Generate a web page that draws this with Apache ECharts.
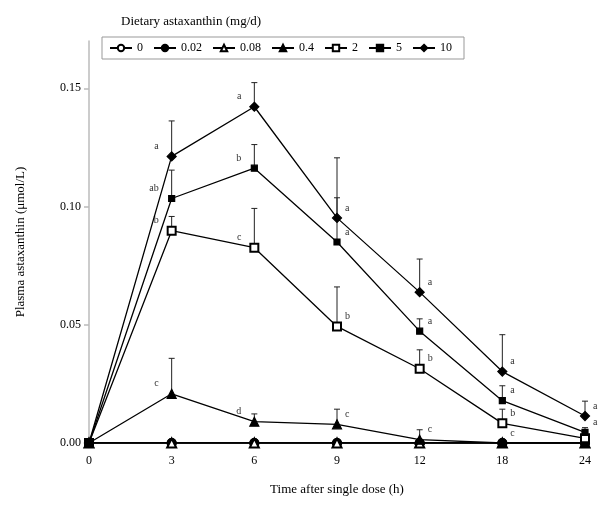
<!DOCTYPE html>
<html><head><meta charset="utf-8">
<script src="https://cdn.jsdelivr.net/npm/echarts@6/dist/echarts.min.js"></script>
<style>html,body{margin:0;padding:0;background:#fff}#c{width:600px;height:512px}</style>
</head><body><div id="c"></div>
<script>
// ---- data ----
const times = ['0', '3', '6', '9', '12', '18', '24'];
const seriesNames = ['0', '0.02', '0.08', '0.4', '2', '5', '10'];
const yTicks = [0, 0.05, 0.10, 0.15];

const d0    = [0, 0, 0, 0, 0, 0, 0];
const d002  = [0, 0, 0, 0, 0, 0, 0];
const d008  = [0, 0, 0, 0, 0, 0, 0];
const d04   = [0, 0.0208, 0.0090, 0.0079, 0.0014, 0, 0];
const d2    = [0, 0.0898, 0.0826, 0.0493, 0.0314, 0.0083, 0.0020];
const d5    = [0, 0.1034, 0.1162, 0.0850, 0.0473, 0.0179, 0.0045];
const d10   = [0, 0.1212, 0.1422, 0.0952, 0.0638, 0.0302, 0.0114];

const e04   = [0, 0.0150, 0.0033, 0.0064, 0.0042, 0, 0];
const e2    = [0, 0.0060, 0.0166, 0.0167, 0.0080, 0.0060, 0.0010];
const e5    = [0, 0.0120, 0.0100, 0.0187, 0.0052, 0.0063, 0.0020];
const e10   = [0, 0.0150, 0.0102, 0.0254, 0.0140, 0.0156, 0.0063];

const l04   = [null, 'c', 'd', 'c', 'c', 'c', null];
const l2    = [null, 'b', 'c', 'b', 'b', 'b', null];
const l5    = [null, 'ab', 'b', 'a', 'a', 'a', 'a'];
const l10   = [null, 'a', 'a', 'a', 'a', 'a', 'a'];

// ---- chart ----
const FONT = 'Liberation Serif';
const chart = echarts.init(document.getElementById('c'));

function lineSeries(name, data, symbol, size) {
  return {
    name: name, type: 'line', data: data, symbol: symbol, symbolSize: size,
    lineStyle: { color: '#000', width: 1.3 },
    itemStyle: { color: '#000', borderColor: '#000', borderWidth: 1.2 },
    emphasis: { disabled: true }, animation: false, z: 3
  };
}

function errSeries(vals, errs, labels) {
  return {
    type: 'custom', silent: true, animation: false, z: 2,
    data: vals.map((v, i) => [i, v, errs[i]]),
    renderItem: function (params, api) {
      const i = api.value(0), v = api.value(1), e = api.value(2);
      const p = api.coord([i, v]);
      const t = api.coord([i, v + e]);
      const kids = [];
      if (e > 0) {
        kids.push({ type: 'line', shape: { x1: p[0], y1: p[1], x2: t[0], y2: t[1] },
          style: { stroke: '#222', lineWidth: 1 } });
        kids.push({ type: 'line', shape: { x1: t[0] - 3, y1: t[1], x2: t[0] + 3, y2: t[1] },
          style: { stroke: '#222', lineWidth: 1 } });
      }
      const lab = labels[params.dataIndex];
      if (lab) {
        const left = i === 1 || i === 2;
        kids.push({ type: 'text', style: {
          text: lab, x: left ? p[0] - 13 : p[0] + 8, y: p[1] - 10,
          align: left ? 'right' : 'left', verticalAlign: 'middle',
          font: '10px ' + FONT, fill: '#333' } });
      }
      return { type: 'group', children: kids };
    }
  };
}

chart.setOption({
  animation: false,
  textStyle: { fontFamily: FONT },
  graphic: [{
    type: 'text', left: 121, top: 15,
    style: { text: 'Dietary astaxanthin (mg/d)', font: '13px ' + FONT, fill: '#000' }
  }],
  legend: {
    left: 102, top: 37,
    data: seriesNames,
    itemWidth: 22, itemHeight: 8, itemGap: 10,
    padding: [5, 12, 5, 7],
    borderColor: '#999', borderWidth: 1,
    textStyle: { fontFamily: FONT, fontSize: 12, color: '#000' },
    selectedMode: false
  },
  grid: { left: 89, right: 15, top: 41, bottom: 69 },
  xAxis: {
    type: 'category', data: times, boundaryGap: false,
    name: 'Time after single dose (h)', nameLocation: 'middle', nameGap: 40,
    nameTextStyle: { fontFamily: FONT, fontSize: 13, color: '#000' },
    axisLine: { lineStyle: { color: '#bbb', width: 1.5 } },
    axisTick: { show: false },
    axisLabel: { fontFamily: FONT, fontSize: 12, color: '#000', margin: 12 },
    splitLine: { show: false }
  },
  yAxis: {
    type: 'value', min: 0, max: 0.17, interval: 0.05,
    name: 'Plasma astaxanthin (μmol/L)', nameLocation: 'middle', nameGap: 62, nameRotate: 90,
    nameTextStyle: { fontFamily: FONT, fontSize: 13, color: '#000' },
    axisLine: { show: true, lineStyle: { color: '#bbb', width: 1.5 } },
    axisTick: { show: true, length: 5, customValues: yTicks, lineStyle: { color: '#bbb', width: 1.5 } },
    axisLabel: { fontFamily: FONT, fontSize: 12, color: '#000', margin: 8, customValues: yTicks,
      formatter: v => v.toFixed(2) },
    splitLine: { show: false }
  },
  series: [
    errSeries(d04, e04, l04),
    errSeries(d2, e2, l2),
    errSeries(d5, e5, l5),
    errSeries(d10, e10, l10),
    lineSeries('0', d0, 'emptyCircle', 8),
    lineSeries('0.02', d002, 'circle', 9),
    lineSeries('0.08', d008, 'emptyTriangle', 9),
    lineSeries('0.4', d04, 'triangle', 9),
    lineSeries('2', d2, 'emptyRect', 8),
    lineSeries('5', d5, 'rect', 6),
    lineSeries('10', d10, 'diamond', 9)
  ]
});
</script></body></html>
